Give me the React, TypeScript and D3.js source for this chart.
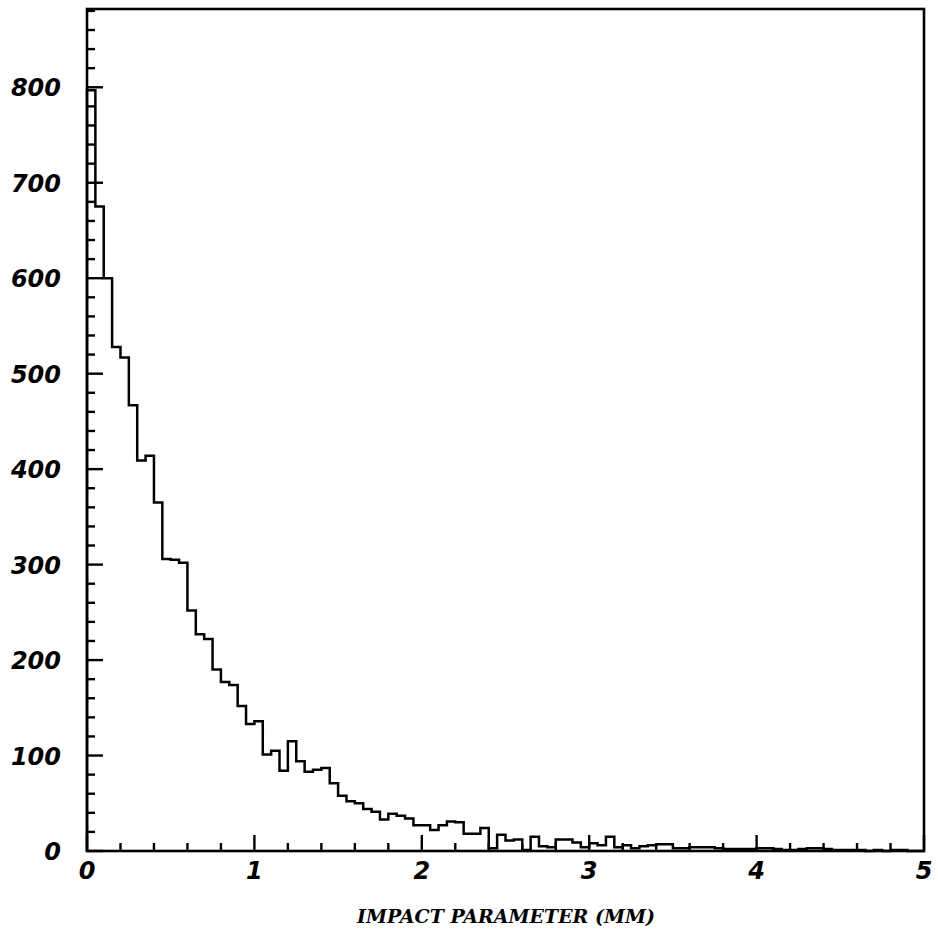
import React, { useEffect, useRef } from 'react';
import * as d3 from 'd3';

// histogram counts, 100 bins of 0.05 mm from 0 to 5 mm
const binWidth = 0.05;
const counts = [
  797, 675, 600, 528, 517, 467, 409, 414, 365, 306,
  305, 302, 252, 227, 222, 190, 177, 174, 152, 133,
  136, 101, 105, 84, 115, 94, 83, 85, 87, 71,
  58, 52, 50, 44, 41, 33, 39, 37, 34, 27,
  27, 22, 27, 31, 30, 18, 18, 24, 3, 17,
  11, 12, 1, 15, 5, 4, 12, 12, 9, 4,
  8, 6, 15, 4, 6, 3, 5, 6, 7, 7,
  3, 3, 4, 4, 4, 3, 2, 2, 2, 2,
  3, 3, 2, 1, 1, 2, 3, 3, 2, 1,
  1, 1, 1, 0, 1, 0, 1, 1, 0, 0,
];

const xMajorTicks = [0, 1, 2, 3, 4, 5];
const yMajorTicks = [0, 100, 200, 300, 400, 500, 600, 700, 800];
const xTitle = 'IMPACT PARAMETER (MM)';

export default function App() {
  const svgRef = useRef<SVGSVGElement>(null);

  useEffect(() => {
    if (!svgRef.current) return;
    const svg = d3.select(svgRef.current);
    svg.selectAll('*').remove();

    const width = 938;
    const height = 945;

    const x = d3.scaleLinear().domain([0, 5]).range([87, 924]);
    const y = d3.scaleLinear().domain([0, 882]).range([851, 9]);

    svg.attr('width', width).attr('height', height);
    svg.append('rect').attr('width', width).attr('height', height).attr('fill', '#fff');

    // Frame
    svg.append('rect')
      .attr('x', x(0))
      .attr('y', y(882))
      .attr('width', x(5) - x(0))
      .attr('height', y(0) - y(882))
      .attr('fill', 'none')
      .attr('stroke', '#000')
      .attr('stroke-width', 2.6);

    // X ticks (inward)
    const xMinor = d3.range(0, 5.0001, 0.2);
    svg.append('g')
      .selectAll('line')
      .data(xMinor)
      .enter()
      .append('line')
      .attr('x1', d => x(d))
      .attr('x2', d => x(d))
      .attr('y1', y(0))
      .attr('y2', d => y(0) - (Math.abs(d - Math.round(d)) < 1e-6 ? 16 : 8))
      .attr('stroke', '#000')
      .attr('stroke-width', 2.4);

    // Y ticks (inward)
    const yMinor = d3.range(0, 881, 20);
    svg.append('g')
      .selectAll('line')
      .data(yMinor)
      .enter()
      .append('line')
      .attr('x1', x(0))
      .attr('x2', d => x(0) + (d % 100 === 0 ? 16 : 8))
      .attr('y1', d => y(d))
      .attr('y2', d => y(d))
      .attr('stroke', '#000')
      .attr('stroke-width', 2.4);

    // Tick labels
    const labelFont = "'DejaVu Sans', sans-serif";
    svg.append('g')
      .selectAll('text')
      .data(xMajorTicks)
      .enter()
      .append('text')
      .attr('x', d => x(d))
      .attr('y', 879)
      .attr('text-anchor', 'middle')
      .attr('font-family', labelFont)
      .attr('font-weight', 'bold')
      .attr('font-style', 'italic')
      .attr('font-size', 24)
      .text(d => d);

    svg.append('g')
      .selectAll('text')
      .data(yMajorTicks)
      .enter()
      .append('text')
      .attr('x', 61)
      .attr('y', d => y(d) + 9)
      .attr('text-anchor', 'end')
      .attr('font-family', labelFont)
      .attr('font-weight', 'bold')
      .attr('font-style', 'italic')
      .attr('font-size', 24)
      .text(d => d);

    // Axis title
    svg.append('text')
      .attr('x', 506)
      .attr('y', 923)
      .attr('text-anchor', 'middle')
      .attr('font-family', "'DejaVu Serif', serif")
      .attr('font-weight', 'bold')
      .attr('font-style', 'italic')
      .attr('font-size', 19)
      .attr('textLength', 298)
      .attr('lengthAdjust', 'spacingAndGlyphs')
      .text(xTitle);

    // Histogram outline
    const pts: [number, number][] = [[0, 0]];
    counts.forEach((c, i) => pts.push([i * binWidth, c]));
    pts.push([counts.length * binWidth, counts[counts.length - 1]]);
    pts.push([counts.length * binWidth, 0]);

    const line = d3.line<[number, number]>()
      .x(d => x(d[0]))
      .y(d => y(d[1]))
      .curve(d3.curveStepAfter);

    svg.append('path')
      .datum(pts)
      .attr('fill', 'none')
      .attr('stroke', '#000')
      .attr('stroke-width', 2.5)
      .attr('stroke-linejoin', 'miter')
      .attr('d', line);
  }, []);

  return (
    <svg
      ref={svgRef}
      style={{ position: 'absolute', left: 0, top: 0, display: 'block' }}
    />
  );
}
